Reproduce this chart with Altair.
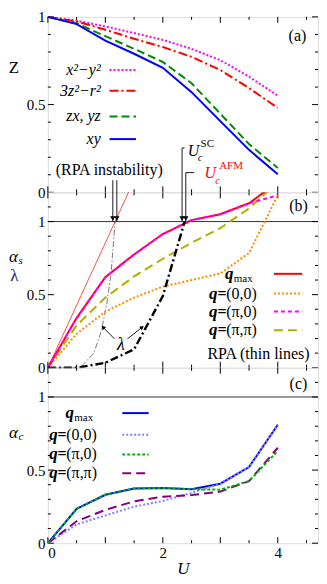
import altair as alt
import pandas as pd

FONT = "Liberation Serif"

# ---------------- data ----------------
U = [0, 0.5, 1, 1.5, 2, 2.5, 3, 3.5, 4]
# panel (a): quasiparticle weight Z
Z_x2y2 = [1, 0.978, 0.946, 0.908, 0.869, 0.818, 0.753, 0.659, 0.551]
Z_3z2r2 = [1, 0.974, 0.927, 0.875, 0.828, 0.772, 0.697, 0.594, 0.481]
Z_zxyz = [1, 0.964, 0.890, 0.818, 0.743, 0.622, 0.448, 0.275, 0.139]
Z_xy = [1, 0.959, 0.865, 0.790, 0.710, 0.571, 0.406, 0.242, 0.103]
# panel (b): spin Stoner factor alpha_s and eigenvalue lambda
as_qmax = [0, 0.34, 0.62, 0.775, 0.915, 1.01, 1.05, 1.125, 1.27]
as_00 = [0, 0.232, 0.384, 0.48, 0.555, 0.60, 0.645, 0.785, 1.18]
as_pi0 = [0, 0.34, 0.62, 0.775, 0.915, 1.01, 1.05, 1.125, 1.18]
as_pipi = [0, 0.29, 0.48, 0.625, 0.745, 0.855, 0.955, 1.09, 1.27]
U_lam = [0, 0.5, 1, 1.5, 2, 2.38]
lam = [0, 0, 0.034, 0.126, 0.49, 1.0]
U_rpa = [0, 1.17, 1.45]
as_rpa = [0, 1.0, 1.24]
U_lam_rpa = [0, 0.56, 0.8, 0.93, 1.03, 1.1, 1.17]
lam_rpa = [0, 0, 0.1, 0.25, 0.45, 0.65, 1.0]
# panel (c): charge Stoner factor alpha_c
ac_qmax = [0, 0.235, 0.331, 0.374, 0.378, 0.369, 0.407, 0.521, 0.81]
ac_00 = [0, 0.128, 0.19, 0.25, 0.289, 0.345, 0.407, 0.521, 0.81]
ac_pi0 = [0, 0.235, 0.331, 0.374, 0.378, 0.369, 0.366, 0.425, 0.631]
ac_pipi = [0, 0.15, 0.228, 0.286, 0.318, 0.329, 0.353, 0.425, 0.653]
# critical values marked by arrows
U_inst_rpa = [1.13, 1.20]
U_c_SC = 2.335
U_c_AFM = 2.40

# tick values
X_MAJOR = [0, 1, 2, 3, 4]
X_MINOR = [0.5, 1.5, 2.5, 3.5, 4.5]
Y_MAJOR = [0, 0.5, 1]
Y_MINOR_A = [0.1, 0.2, 0.3, 0.4, 0.6, 0.7, 0.8, 0.9]
Y_MINOR_BC = [0.1, 0.2, 0.3, 0.4, 0.6, 0.7, 0.8, 0.9, 1.1]

# ---------------- layout ----------------
W = 271
H = 176
sx = W / 276.0
sy = H / 178.0
PXU = W / 4.7
xscale = alt.Scale(domain=[0, 4.7], nice=False, zero=False)


def axes(panel):
    ydom = [0, 1] if panel == "a" else [0, 1.2]
    yscale = alt.Scale(domain=ydom, nice=False, zero=False)
    yaxis = alt.Axis(values=Y_MAJOR, labelExpr="'' + datum.value", ticks=False,
                     domain=False, grid=False, labelPadding=3, labelFontSize=15,
                     labelFont=FONT, labelColor="black", title=None)
    if panel == "c":
        xaxis = alt.Axis(values=[0, 2, 4], labelExpr="'' + datum.value", ticks=False,
                         domain=False, grid=False, labelPadding=2, labelFontSize=15,
                         labelFont=FONT, labelColor="black", title="U", titleFont=FONT,
                         titleFontSize=17, titleFontStyle="italic",
                         titleFontWeight="normal", titlePadding=0, titleColor="black")
    else:
        xaxis = None

    def X(f):
        return alt.X(f, type="quantitative", scale=xscale, axis=xaxis)

    def Y(f):
        return alt.Y(f, type="quantitative", scale=yscale, axis=yaxis)
    return X, Y


def one():
    return pd.DataFrame({"k": [0]})


def tick_layers(X, Y, yminor):
    parts = []
    for vals, L in ((X_MAJOR, 6), (X_MINOR, 3)):
        df = pd.DataFrame({"t": vals})
        parts.append(alt.Chart(df).mark_rule(color="black", strokeWidth=1).encode(
            x=X("t"), y=alt.value(H), y2=alt.value(H - L)))
        parts.append(alt.Chart(df).mark_rule(color="black", strokeWidth=1).encode(
            x=X("t"), y=alt.value(0), y2=alt.value(L)))
    for vals, L in ((Y_MAJOR, 6), (yminor, 3)):
        df = pd.DataFrame({"t": vals})
        parts.append(alt.Chart(df).mark_rule(color="black", strokeWidth=1).encode(
            y=Y("t"), x=alt.value(0), x2=alt.value(L)))
        parts.append(alt.Chart(df).mark_rule(color="black", strokeWidth=1).encode(
            y=Y("t"), x=alt.value(W), x2=alt.value(W - L)))
    return parts


def line(X, Y, u, v, color, width=2.0, dash=None, clip=False):
    df = pd.DataFrame({"U": u, "v": v})
    kw = dict(color=color, strokeWidth=width, clip=clip)
    if dash is not None:
        kw["strokeDash"] = dash
    return alt.Chart(df).mark_line(**kw).encode(x=X("U"), y=Y("v"))


def seg(x1, x2, y, color, width=2.0, dash=None):
    kw = dict(color=color, strokeWidth=width)
    if dash is not None:
        kw["strokeDash"] = dash
    return alt.Chart(one()).mark_rule(**kw).encode(
        x=alt.value(x1 * sx), x2=alt.value(x2 * sx), y=alt.value(y * sy))


def txt(s, x, y, size=16, style="normal", weight="normal", color="black",
        align="left", baseline="alphabetic", dy=0):
    return alt.Chart(pd.DataFrame({"s": [s]})).mark_text(
        font=FONT, fontSize=size, fontStyle=style, fontWeight=weight, color=color,
        align=align, baseline=baseline).encode(
        x=alt.value(x * sx if x >= 0 else x), y=alt.value(y * sy + dy), text="s:N")


def qlabel(rest, x0, y, sub=False):
    parts = [txt("q", x0, y, size=17, style="italic", weight="bold", dy=5)]
    if sub:
        parts.append(txt(rest, x0 + 9, y, size=11, dy=8))
    else:
        parts.append(txt("=", x0 + 8.5, y, size=16, weight="bold", dy=5))
        parts.append(txt(rest, x0 + 17.5, y, size=16, dy=5))
    return parts


# ---------------- panel (a) ----------------
Xa, Ya = axes("a")
a_layers = tick_layers(Xa, Ya, Y_MINOR_A)
a_series = [
    ("x²−y²", Z_x2y2, "#ff00ff", [2, 2]),
    ("3z²−r²", Z_3z2r2, "#ff0000", [9, 3, 2, 3]),
    ("zx, yz", Z_zxyz, "#008c00", [8, 4]),
    ("xy", Z_xy, "#0000ff", None),
]
a_rows = [54, 75, 101, 124]
for (lab, vals, col, dash), ry in zip(a_series, a_rows):
    a_layers.append(line(Xa, Ya, U, vals, col, 2.0, dash))
for (lab, vals, col, dash), ry in zip(a_series, a_rows):
    a_layers.append(seg(63, 90, ry, col, 2.0, dash))
    a_layers.append(txt(lab, 54, ry, size=16, style="italic", align="right", dy=5))
a_layers.append(txt("(a)", 255, 19, size=16, align="center", baseline="middle"))
a_layers.append(txt("Z", -34, 52, size=17, align="center", baseline="middle"))
panel_a = alt.layer(*a_layers).properties(width=W, height=H)

# ---------------- panel (b) ----------------
Xb, Yb = axes("b")
b_layers = tick_layers(Xb, Yb, Y_MINOR_BC)
b_layers.append(alt.Chart(pd.DataFrame({"v": [1]})).mark_rule(
    color="black", strokeWidth=0.8).encode(y=Yb("v")))
b_layers.append(line(Xb, Yb, U_rpa, as_rpa, "#ff0000", 0.7, None, clip=True))
b_layers.append(line(Xb, Yb, U_lam_rpa, lam_rpa, "#444444", 0.7, [6, 2, 1.5, 2]))
b_layers.append(line(Xb, Yb, U, as_00, "#ff8c00", 2.0, [2, 2], clip=True))
b_layers.append(line(Xb, Yb, U, as_pipi, "#b0b000", 2.0, [9, 5], clip=True))
b_layers.append(line(Xb, Yb, U, as_qmax, "#ff0000", 2.0, None, clip=True))
b_layers.append(line(Xb, Yb, U, as_pi0, "#ff00ff", 2.0, [4, 3], clip=True))
b_layers.append(line(Xb, Yb, U_lam, lam, "black", 2.4, [8, 3, 2, 3]))

# legend (b)
b_rows = [82.7, 102.7, 121, 140]
b_leg = [
    ("max", "#ff0000", None, True, 181),
    ("(0,0)", "#ff8c00", [2, 2], False, 164.7),
    ("(π,0)", "#ff00ff", [4, 3], False, 164.7),
    ("(π,π)", "#b0b000", [9, 5], False, 164.7),
]
for (rest, col, dash, sub, x0), ry in zip(b_leg, b_rows):
    b_layers.append(seg(231, 260, ry, col, 2.0, dash))
    b_layers += qlabel(rest, x0, ry, sub)
b_layers.append(txt("RPA (thin lines)", 163, 163.7, size=16, dy=5))
b_layers.append(txt("(b)", 256, 14, size=16, align="center", baseline="middle"))

# y title (b)
b_layers.append(txt("α", -34.5, 66, size=17, style="italic", align="center", baseline="middle"))
b_layers.append(txt("s", -29.5, 66, size=11, style="italic", dy=7))
b_layers.append(txt("λ", -33.5, 85, size=17, color="#1c1c80", align="center", baseline="middle"))

# arrows marking instabilities
arrow_specs = [
    (U_inst_rpa[0], -12.3 * sy),
    (U_inst_rpa[1], -12.3 * sy),
    (U_c_SC, -45 * sy),
    (U_c_AFM, -20 * sy),
]
for u0, top in arrow_specs:
    dfa = pd.DataFrame({"u": [u0], "v": [1.0]})
    b_layers.append(alt.Chart(dfa).mark_rule(color="black", strokeWidth=0.9).encode(
        x=Xb("u"), y=Yb("v"), y2=alt.value(top)))
    b_layers.append(alt.Chart(dfa).mark_point(
        shape="triangle-down", filled=True, size=28, color="black", opacity=1,
        yOffset=-3).encode(x=Xb("u"), y=Yb("v")))
# brackets at the arrow tops
for u0, top, length in ((U_c_SC, -45 * sy, 2.5), (U_c_AFM, -20 * sy, 8.4)):
    dfb = pd.DataFrame({"u": [u0], "u2": [u0 + length / PXU]})
    b_layers.append(alt.Chart(dfb).mark_rule(color="black", strokeWidth=0.9).encode(
        x=Xb("u"), x2="u2:Q", y=alt.value(top)))

b_layers.append(txt("(RPA instability)", 8, -18, size=16))
b_layers.append(txt("U", 143, -37, size=16, style="italic"))
b_layers.append(txt("c", 153.5, -32, size=10, style="italic"))
b_layers.append(txt("SC", 156, -46, size=11))
b_layers.append(txt("U", 160, -14.5, size=16, style="italic", color="#ff0000"))
b_layers.append(txt("c", 171, -8.5, size=10, style="italic", color="#ff0000"))
b_layers.append(txt("AFM", 175, -24, size=11, color="#ff0000"))

# lambda labels with arrows
lam_lab = pd.DataFrame({"u": [1.27], "v": [0.153], "s": ["λ"]})
b_layers.append(alt.Chart(lam_lab).mark_text(font=FONT, fontSize=18, fontStyle="italic",
                                             align="center", baseline="middle").encode(
    x=Xb("u"), y=Yb("v"), text="s:N"))
lam_arr = pd.DataFrame({"u": [1.158, 1.385], "v": [0.198, 0.198],
                        "u2": [0.959, 1.64], "v2": [0.277, 0.277], "ang": [315, 52]})
b_layers.append(alt.Chart(lam_arr).mark_rule(color="black", strokeWidth=0.9).encode(
    x=Xb("u"), y=Yb("v"), x2="u2:Q", y2="v2:Q"))
for i in range(2):
    b_layers.append(alt.Chart(lam_arr.iloc[[i]]).mark_point(
        shape="triangle-up", filled=True, size=22, color="black", opacity=1,
        angle=int(lam_arr["ang"].iloc[i])).encode(x=Xb("u2"), y=Yb("v2")))

panel_b = alt.layer(*b_layers).properties(width=W, height=H)

# ---------------- panel (c) ----------------
Xc, Yc = axes("c")
c_layers = tick_layers(Xc, Yc, Y_MINOR_BC)
c_layers.append(alt.Chart(pd.DataFrame({"v": [1]})).mark_rule(
    color="black", strokeWidth=0.8).encode(y=Yc("v")))
c_series = [
    ("max", ac_qmax, "#0000ff", None, True, 18),
    ("(0,0)", ac_00, "#8080ff", [2, 2], False, 1.3),
    ("(π,0)", ac_pi0, "#00b400", [3, 2], False, 1.3),
    ("(π,π)", ac_pipi, "#800080", [9, 5], False, 1.3),
]
c_layers.append(line(Xc, Yc, U, ac_qmax, "#0000ff", 2.0, None))
c_layers.append(line(Xc, Yc, U, ac_00, "#8080ff", 2.0, [2, 2]))
c_layers.append(line(Xc, Yc, U, ac_pipi, "#800080", 2.0, [9, 5]))
c_layers.append(line(Xc, Yc, U, ac_pi0, "#00b400", 2.0, [3, 2]))
c_rows = [46, 68, 88, 107]
for (rest, vals, col, dash, sub, x0), ry in zip(c_series, c_rows):
    c_layers.append(seg(76, 103, ry, col, 2.0, dash))
    c_layers += qlabel(rest, x0, ry, sub)
c_layers.append(txt("(c)", 256, 16, size=16, align="center", baseline="middle"))
c_layers.append(txt("α", -34.5, 66, size=17, style="italic", align="center", baseline="middle"))
c_layers.append(txt("c", -29.5, 66, size=11, style="italic", dy=7))
panel_c = alt.layer(*c_layers).properties(width=W, height=H)

chart = alt.vconcat(
    panel_a, panel_b, panel_c, spacing=0, bounds="flush",
    padding={"left": 0, "top": 0, "right": 0, "bottom": 0},
).configure_view(stroke="black", strokeWidth=1).configure(font=FONT, padding=0)

chart.save("out.html", embed_options={"renderer": "svg", "actions": False})
